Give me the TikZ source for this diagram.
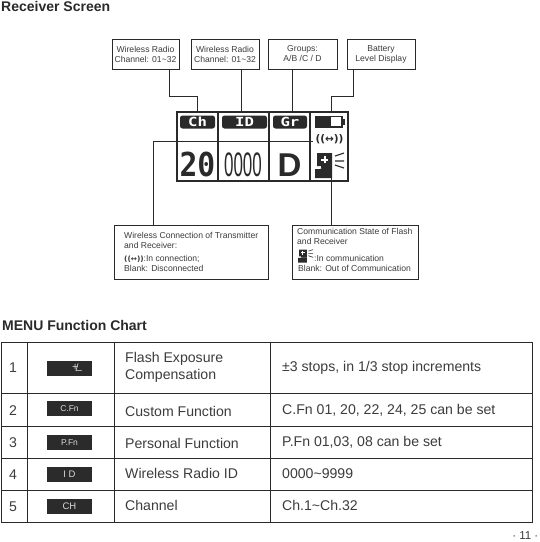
\documentclass[tikz,border=0pt]{standalone}
\usepackage{fontspec}
\setmainfont{Liberation Sans}
\newfontfamily\djv{DejaVu Sans}
\newfontfamily\djb{DejaVu Sans Mono}
\definecolor{ink}{HTML}{2A2A2A}
\definecolor{txt}{HTML}{3C3C3C}
\definecolor{chip}{HTML}{2B2B2B}
\newcommand{\wifiicon}[1]{\scalebox{#1}{\djv\bfseries((↔))}}
% icon drawn around (0,0) = top left corner of a 30 x 26 box
\newcommand{\flashicon}[3]{%
  \begin{scope}[shift={(#1,#2)},scale=#3]
    \fill[ink] (2,1) -- (17,1) -- (17,16) -- (6,16) -- (6,14) -- (2,14) -- cycle;
    \fill[ink] (0,17) -- (5,17) -- (7,16) -- (17,16) -- (17,26) -- (0,26) -- cycle;
    \fill[white] (6,6.5) rectangle (13,8.5);
    \fill[white] (8.5,4) rectangle (10.5,11);
    \draw[ink,line width=1.1pt*#3] (20,4) -- (29,1) (20,9) -- (29,9) (20,13) -- (29,16);
  \end{scope}}
\tikzset{
  x=1pt,y=-1pt,
  callout/.style={draw=ink,line width=0.8pt,fill=white,inner sep=0pt,text=txt,font=\fontsize{8.6}{10}\selectfont,align=center},
  wire/.style={draw=ink,line width=0.9pt},
  lcdline/.style={draw=ink,line width=1.1pt},
  rowline/.style={draw=ink,line width=0.7pt},
  title/.style={anchor=west,inner sep=0pt,text=ink,font=\fontsize{14}{16}\selectfont\bfseries},
  celltext/.style={anchor=west,inner sep=0pt,text=txt,align=left,font=\fontsize{14.1}{16.5}\selectfont},
  calltext/.style={inner sep=0pt,anchor=west,text=txt,align=left,font=\fontsize{8.6}{10}\selectfont},
  chipbox/.style={fill=chip,minimum width=45pt,minimum height=15pt,inner sep=0pt,text=white!85!black,font=\fontsize{8.5}{9}\selectfont},
  lcdtag/.style={fill=ink,rounded corners=2.5pt,inner sep=0pt,minimum height=13pt,text=white,font=\fontsize{12.5}{13}\selectfont\djb\bfseries},
}
\begin{document}
\begin{tikzpicture}
\useasboundingbox (0,0) rectangle (540,542);
\fill[white] (0,0) rectangle (540,542);
\node[title] (t1) at (1,6) {Receiver Screen};
\node[title] (t2) at (2,325) {MENU Function Chart};
% callouts
\node[callout,minimum width=67pt,minimum height=30pt] (b1) at (145.5,54) {Wireless Radio\\Channel: 01\textasciitilde32};
\node[callout,minimum width=68pt,minimum height=30pt] (b2) at (225,54) {Wireless Radio\\Channel: 01\textasciitilde32};
\node[callout,minimum width=69pt,minimum height=30pt] (b3) at (302.5,54) {Groups:\\A/B /C / D};
\node[callout,minimum width=68pt,minimum height=30pt] (b4) at (381,54) {Battery\\Level Display};
% LCD
\node[draw=ink,line width=1.1pt,minimum width=171pt,minimum height=69pt,inner sep=0pt] (lcd) at (262.5,146.5) {};
\coordinate (d1t) at (218,112); \coordinate (d1b) at (218,181);
\coordinate (d2t) at (269,112); \coordinate (d2b) at (269,181);
\coordinate (d3t) at (310,112); \coordinate (d3b) at (310,181);
\draw[lcdline] (d1t) -- (d1b) (d2t) -- (d2b) (d3t) -- (d3b);
\node[lcdtag,minimum width=35pt] (tagch) at (197.5,122) {\scalebox{1.25}[1]{Ch}};
\node[lcdtag,minimum width=45pt] (tagid) at (244.5,122) {\scalebox{1.25}[1]{ID}};
\node[lcdtag,minimum width=34pt] (taggr) at (290,122) {\scalebox{1.25}[1]{Gr}};
\fill[ink] (315,115.5) rectangle (343,127.5);
\fill[white] (331,117) rectangle (341,126);
\fill[ink] (343,118.5) rectangle (344.5,124.5);
\node[inner sep=0pt,text=ink,font=\fontsize{10.5}{11}\selectfont] (wifi) at (329.5,139) {\wifiicon{1}};
\node[inner sep=0pt,text=ink,font=\fontsize{33}{33}\selectfont\bfseries\djb] (n20) at (197.5,164) {\scalebox{0.9}[1]{20}};
\node[inner sep=0pt,text=ink,font=\fontsize{34}{34}\selectfont] (n0000) at (243,165) {\scalebox{0.5}[1]{0000}};
\node[inner sep=0pt,text=ink,font=\fontsize{33}{33}\selectfont\bfseries] (nd) at (289.5,165) {D};
\flashicon{315}{152}{1}
% lower callouts
\node[callout,minimum width=154pt,minimum height=54pt] (b5) at (191,252) {};
\node[calltext] (b5a) at (124,240) {Wireless Connection of Transmitter\\and Receiver:};
\node[calltext] (b5b) at (124,263) {\wifiicon{0.85}:In connection;\\Blank: Disconnected};
\node[callout,minimum width=126pt,minimum height=54pt] (b6) at (355,252) {};
\node[calltext] (b6a) at (297,236.5) {Communication State of Flash\\and Receiver};
\node[calltext] (b6b) at (314,258.5) {:In communication};
\node[calltext] (b6c) at (298,268) {Blank: Out of Communication};
\flashicon{298}{249}{0.52}
% connectors
\coordinate (w1a) at (169,69); \coordinate (w1b) at (169,96); \coordinate (w1c) at (197,96); \coordinate (w1d) at (197,112);
\draw[wire] (w1a) -- (w1b) -- (w1c) -- (w1d);
\draw[wire] (b2.south -| 241,0) -- (lcd.north -| 241,0);
\draw[wire] (b3.south -| 292,0) -- (lcd.north -| 292,0);
\coordinate (w4a) at (353,69); \coordinate (w4b) at (353,96); \coordinate (w4c) at (331,96); \coordinate (w4d) at (331,112);
\draw[wire] (w4a) -- (w4b) -- (w4c) -- (w4d);
\coordinate (w5a) at (313,141); \coordinate (w5b) at (153,141);
\draw[wire] (w5a) -- (w5b) -- (b5.north -| w5b);
\coordinate (w6a) at (331,178);
\draw[wire] (w6a) -- (b6.north -| w6a);
% table
\node[draw=ink,line width=0.7pt,minimum width=531pt,minimum height=180pt,inner sep=0pt] (tbl) at (266.5,432) {};
\foreach \n/\yy in {a/393,b/426,c/458,d/490}{\coordinate (hl\n) at (1,\yy); \coordinate (hr\n) at (532,\yy); \draw[rowline] (hl\n) -- (hr\n);}
\foreach \n/\xx in {a/27,b/114,c/270}{\coordinate (vt\n) at (\xx,342); \coordinate (vb\n) at (\xx,522); \draw[rowline] (vt\n) -- (vb\n);}
\foreach \n/\yy in {1/368,2/411,3/443,4/475,5/507}{\node[celltext] (num\n) at (9,\yy) {\n};}
\node[chipbox,font=\fontsize{10.5}{11}\selectfont] (c1) at (69,368.5) {\hspace*{16pt}\raisebox{1.5pt}{+}\kern-2.5pt/\kern-2.5pt\raisebox{-1.5pt}{–}};
\node[chipbox] (c2) at (69.5,408.5) {C.Fn};
\node[chipbox] (c3) at (69.5,442.5) {P.Fn};
\node[chipbox,font=\fontsize{9.5}{10}\selectfont] (c4) at (69.5,474.5) {I D};
\node[chipbox,font=\fontsize{9.5}{10}\selectfont] (c5) at (69.5,506.5) {CH};
\node[celltext] (f1) at (125,367.5) {Flash Exposure\\Compensation};
\node[celltext] (f2) at (125,411) {Custom Function};
\node[celltext] (f3) at (125,443) {Personal Function};
\node[celltext] (f4) at (125,473.5) {Wireless Radio ID};
\node[celltext] (f5) at (125,505.5) {Channel};
\node[celltext] (v1) at (282,367.5) {±3 stops, in 1/3 stop increments};
\node[celltext] (v2) at (282,410) {C.Fn 01, 20, 22, 24, 25 can be set};
\node[celltext] (v3) at (282,442) {P.Fn 01,03, 08 can be set};
\node[celltext] (v4) at (282,474) {0000\textasciitilde9999};
\node[celltext] (v5) at (282,505.5) {Ch.1\textasciitilde Ch.32};
\node[anchor=east,inner sep=0pt,text=txt,font=\fontsize{11.5}{12}\selectfont] (pg) at (538.5,536) {· 11 ·};
\end{tikzpicture}
\end{document}
